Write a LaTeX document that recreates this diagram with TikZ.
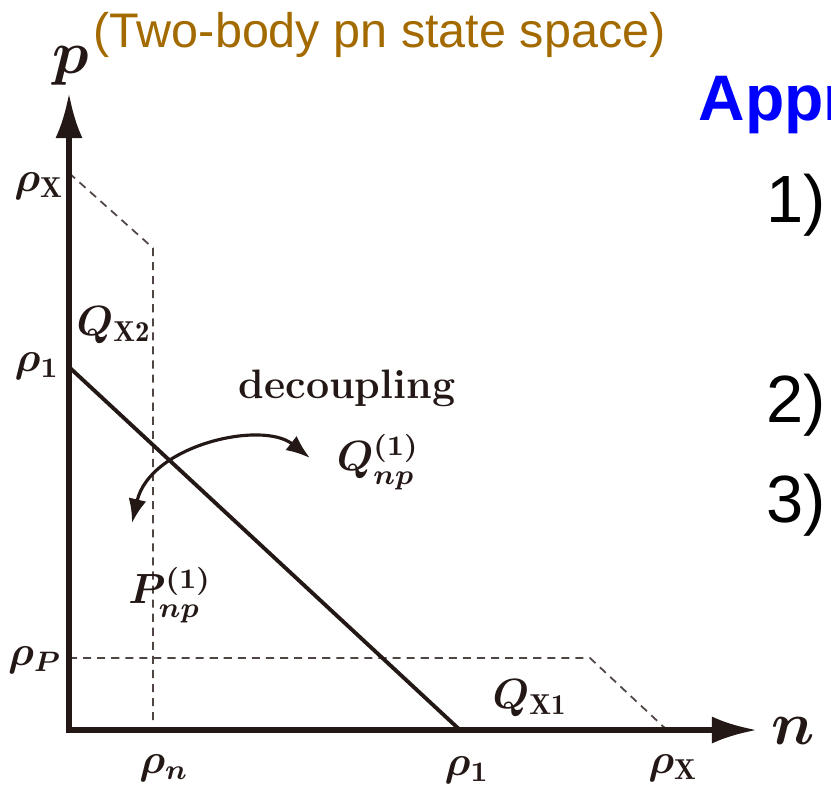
\documentclass[tikz,border=0pt]{standalone}
\usepackage{fontspec}
\newfontfamily\arialfont{Liberation Sans}
\usetikzlibrary{arrows.meta}
\definecolor{inkblack}{RGB}{35,24,21}
\definecolor{titlebrown}{RGB}{163,106,0}

\begin{document}
\begin{tikzpicture}[x=0.01cm,y=-0.01cm,
  axisline/.style={draw=inkblack,line width=1.6pt,line join=miter,
    {Latex[length=0.45cm,width=0.27cm]}-{Latex[length=0.45cm,width=0.27cm]}},
  cut/.style={draw=inkblack,line width=1.1pt},
  bound/.style={draw=inkblack!80,line width=0.5pt,dash pattern=on 2.3pt off 1.7pt},
  turn/.style={draw=inkblack,line width=0.9pt,
    {Latex[length=0.24cm,width=0.18cm]}-{Latex[length=0.24cm,width=0.18cm]}},
  mathlbl/.style={font=\boldmath\fontsize{11.7}{14}\selectfont,text=inkblack,inner sep=0pt},
  axislbl/.style={font=\boldmath\fontsize{17}{20}\selectfont,text=inkblack,inner sep=0pt},
  title/.style={font=\arialfont\fontsize{13.8}{16}\selectfont,text=titlebrown,anchor=base west,inner sep=0pt},
  heading/.style={font=\arialfont\bfseries\fontsize{18.3}{22}\selectfont,text=blue,anchor=base west,inner sep=0pt},
  item/.style={font=\arialfont\fontsize{19}{22}\selectfont,text=black,anchor=base west,inner sep=0pt},
]
\useasboundingbox (0,0) rectangle (831,787);
% points on the axes
\coordinate (O) at (69,730);
\coordinate (ptip) at (69,93);
\coordinate (ntip) at (757,730);
\coordinate (r1p) at (69,367);
\coordinate (r1n) at (460,730);
\coordinate (rXp) at (69,173);
\coordinate (c2) at (153,248);
\coordinate (c2b) at (153,722);
\coordinate (rPp) at (69,658);
\coordinate (c1) at (590,658);
\coordinate (rXn) at (667,730);
\coordinate (dl) at (132,523);
\coordinate (dr) at (310,458);

\draw[bound] (rXp) -- (c2) -- (c2b);
\draw[bound] (rPp) -- (c1) -- (rXn);
\draw[cut] (r1p) -- (r1n);
\draw[axisline] (ptip) -- (O) -- (ntip);
\draw[turn] (dl) .. controls (150,445) and (262,420) .. (dr);

\node[axislbl] (plab) at (71,66) {$p$};
\node[axislbl] (nlab) at (793,731) {$n$};
\node[mathlbl] (rhoXp) at (39,186) {$\rho_{\mathrm{X}}$};
\node[mathlbl] (rho1p) at (37,366) {$\rho_1$};
\node[mathlbl] (rhoPp) at (35,660) {$\rho_P$};
\node[mathlbl] (rhonn) at (164,768) {$\rho_n$};
\node[mathlbl] (rho1n) at (467,770) {$\rho_1$};
\node[mathlbl] (rhoXn) at (673,768) {$\rho_{\mathrm{X}}$};
\node[mathlbl] (qx2) at (114,325) {$Q_{\mathrm{X2}}$};
\node[mathlbl] (qx1) at (530,698) {$Q_{\mathrm{X1}}$};
\node[mathlbl] (qnp) at (378,462) {$Q_{np}^{(1)}$};
\node[mathlbl] (pnp) at (170,595) {$P_{np}^{(1)}$};
\node[mathlbl] (dec) at (347,388) {\textbf{decoupling}};

\node[title] (ttl) at (93,47) {(Two-body pn state space)};
\node[heading] (appr) at (698,120) {Appr};
\node[item] (it1) at (766,222) {1)};
\node[item] (it2) at (766,422) {2)};
\node[item] (it3) at (766,522) {3)};
\end{tikzpicture}
\end{document}
